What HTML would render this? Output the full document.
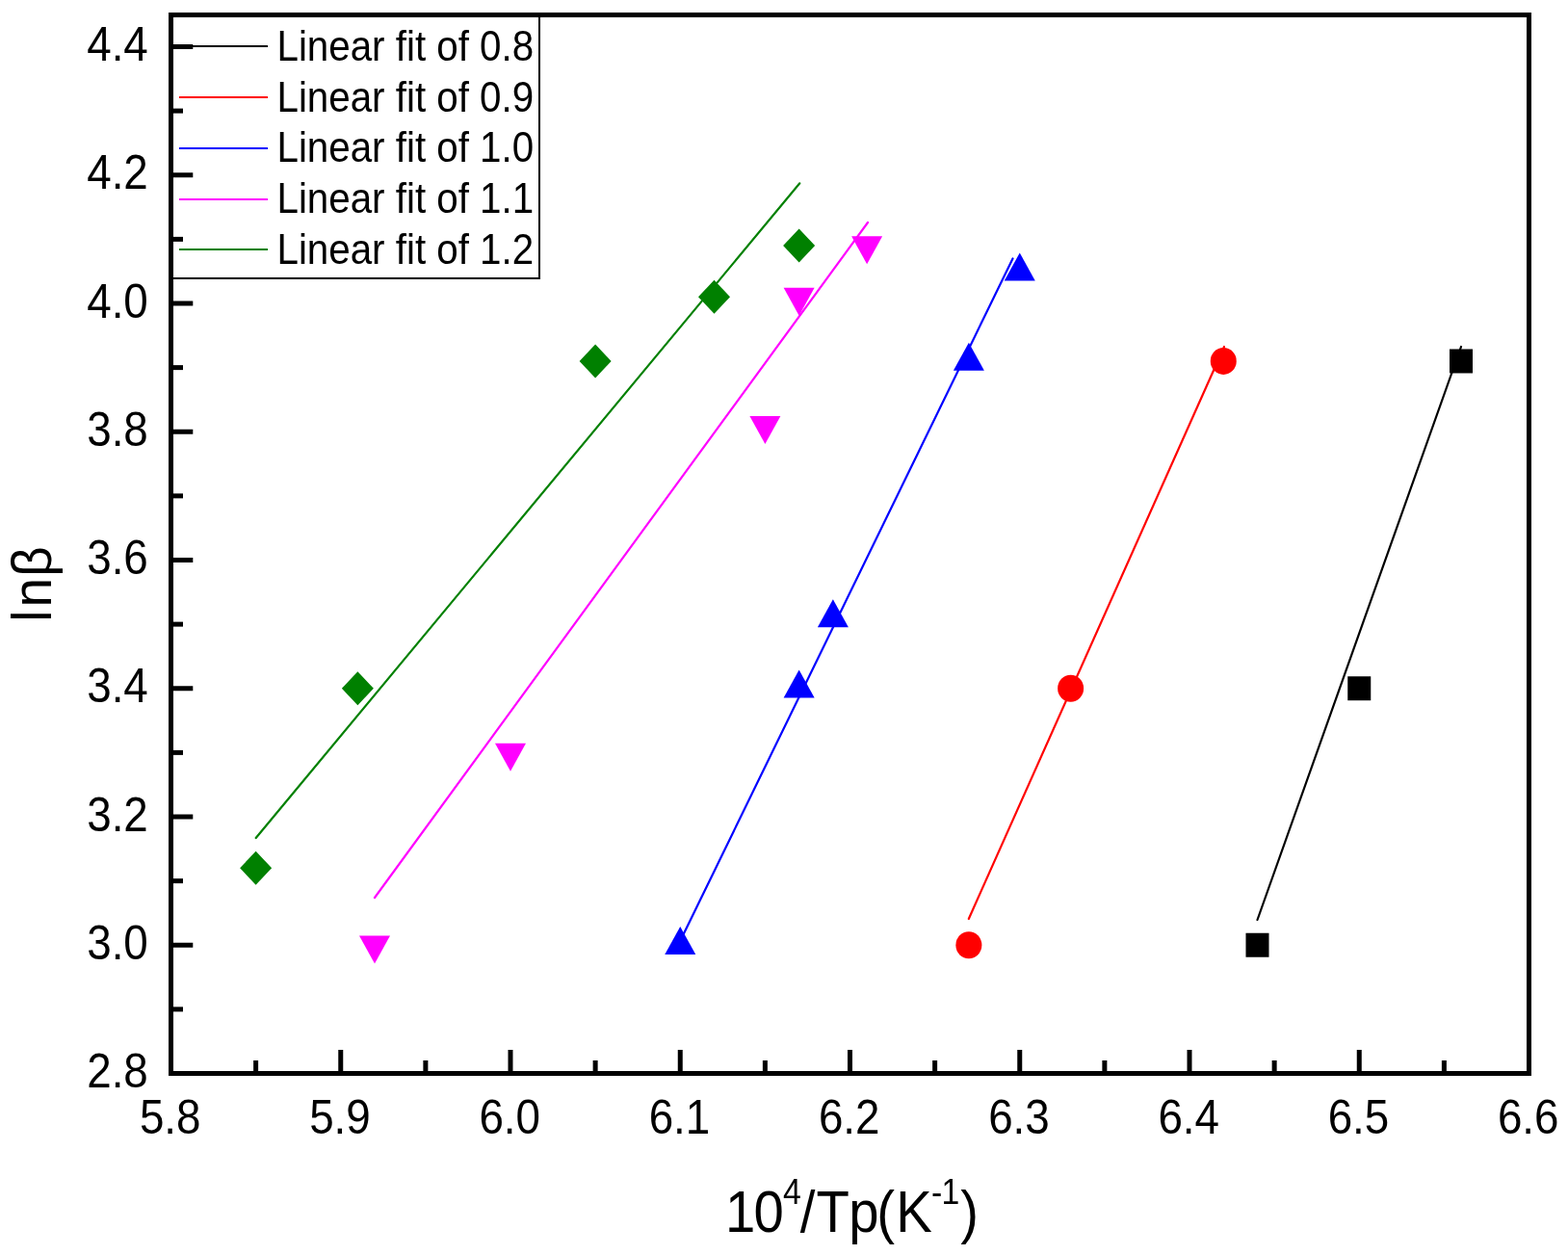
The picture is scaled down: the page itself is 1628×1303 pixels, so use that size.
<!DOCTYPE html><html><head><meta charset="utf-8"><title>lnβ vs 10^4/Tp</title><style>html,body{margin:0;padding:0;background:#fff;}svg{display:block;}text{font-family:"Liberation Sans", Arial, sans-serif;fill:#000;}</style></head><body>
<svg width="1628" height="1303" viewBox="0 0 1628 1303">
<rect x="0" y="0" width="1628" height="1303" fill="#fff"/>
<line x1="1305.5" y1="955.0" x2="1517.0" y2="360.0" stroke="#000000" stroke-width="2.2" stroke-linecap="round"/>
<line x1="1005.8" y1="954.0" x2="1271.0" y2="360.0" stroke="#ff0000" stroke-width="2.2" stroke-linecap="round"/>
<line x1="706.2" y1="977.0" x2="1051.5" y2="268.5" stroke="#0000ff" stroke-width="2.2" stroke-linecap="round"/>
<line x1="389.0" y1="932.0" x2="901.0" y2="231.0" stroke="#ff00ff" stroke-width="2.2" stroke-linecap="round"/>
<line x1="265.7" y1="870.0" x2="830.3" y2="190.3" stroke="#008000" stroke-width="2.2" stroke-linecap="round"/>
<rect x="1293.50" y="968.75" width="24" height="25" fill="#000"/>
<rect x="1399.25" y="702.25" width="24" height="25" fill="#000"/>
<rect x="1505.00" y="362.46" width="24" height="25" fill="#000"/>
<ellipse cx="1005.87" cy="981.25" rx="13.5" ry="14" fill="#ff0000"/>
<ellipse cx="1111.63" cy="714.75" rx="13.5" ry="14" fill="#ff0000"/>
<ellipse cx="1270.25" cy="374.96" rx="13.5" ry="14" fill="#ff0000"/>
<polygon points="706.25,961.95 690.25,990.95 722.25,990.95" fill="#0000ff"/>
<polygon points="829.63,695.45 813.63,724.45 845.63,724.45" fill="#0000ff"/>
<polygon points="864.88,622.16 848.88,651.16 880.88,651.16" fill="#0000ff"/>
<polygon points="1005.87,355.66 989.87,384.66 1021.87,384.66" fill="#0000ff"/>
<polygon points="1058.75,262.39 1042.75,291.39 1074.75,291.39" fill="#0000ff"/>
<polygon points="389.00,1000.55 373.00,971.55 405.00,971.55" fill="#ff00ff"/>
<polygon points="530.00,800.67 514.00,771.67 546.00,771.67" fill="#ff00ff"/>
<polygon points="794.38,460.89 778.38,431.89 810.38,431.89" fill="#ff00ff"/>
<polygon points="829.63,327.64 813.63,298.64 845.63,298.64" fill="#ff00ff"/>
<polygon points="900.13,274.34 884.13,245.34 916.13,245.34" fill="#ff00ff"/>
<polygon points="265.62,883.80 282.12,901.30 265.62,918.80 249.12,901.30" fill="#008000"/>
<polygon points="371.38,697.25 387.88,714.75 371.38,732.25 354.88,714.75" fill="#008000"/>
<polygon points="618.12,357.46 634.62,374.96 618.12,392.46 601.62,374.96" fill="#008000"/>
<polygon points="741.50,290.84 758.00,308.34 741.50,325.84 725.00,308.34" fill="#008000"/>
<polygon points="829.63,237.54 846.13,255.04 829.63,272.54 813.13,255.04" fill="#008000"/>
<rect x="176" y="14" width="384" height="275" fill="#fff" stroke="#000" stroke-width="2"/>
<line x1="186" y1="48.0" x2="278" y2="48.0" stroke="#000000" stroke-width="2"/>
<text transform="translate(287.50 62.80) scale(0.8980 1)" font-size="44.90">Linear fit of 0.8</text>
<line x1="186" y1="101.0" x2="278" y2="101.0" stroke="#ff0000" stroke-width="2"/>
<text transform="translate(287.50 115.60) scale(0.8980 1)" font-size="44.90">Linear fit of 0.9</text>
<line x1="186" y1="154.0" x2="278" y2="154.0" stroke="#0000ff" stroke-width="2"/>
<text transform="translate(287.50 168.40) scale(0.8980 1)" font-size="44.90">Linear fit of 1.0</text>
<line x1="186" y1="207.0" x2="278" y2="207.0" stroke="#ff00ff" stroke-width="2"/>
<text transform="translate(287.50 221.20) scale(0.8980 1)" font-size="44.90">Linear fit of 1.1</text>
<line x1="186" y1="259.0" x2="278" y2="259.0" stroke="#008000" stroke-width="2"/>
<text transform="translate(287.50 274.00) scale(0.8980 1)" font-size="44.90">Linear fit of 1.2</text>
<rect x="177.5" y="15.5" width="1410.0" height="1099.0" fill="none" stroke="#000" stroke-width="5"/>
<line x1="178" y1="1114.50" x2="200.3" y2="1114.50" stroke="#000" stroke-width="5"/>
<text transform="translate(153.80 1129.20) scale(0.9150 1)" font-size="50.00" text-anchor="end">2.8</text>
<line x1="178" y1="1047.88" x2="190" y2="1047.88" stroke="#000" stroke-width="5"/>
<line x1="178" y1="981.25" x2="200.3" y2="981.25" stroke="#000" stroke-width="5"/>
<text transform="translate(153.80 995.95) scale(0.9150 1)" font-size="50.00" text-anchor="end">3.0</text>
<line x1="178" y1="914.63" x2="190" y2="914.63" stroke="#000" stroke-width="5"/>
<line x1="178" y1="848.00" x2="200.3" y2="848.00" stroke="#000" stroke-width="5"/>
<text transform="translate(153.80 862.70) scale(0.9150 1)" font-size="50.00" text-anchor="end">3.2</text>
<line x1="178" y1="781.38" x2="190" y2="781.38" stroke="#000" stroke-width="5"/>
<line x1="178" y1="714.75" x2="200.3" y2="714.75" stroke="#000" stroke-width="5"/>
<text transform="translate(153.80 729.45) scale(0.9150 1)" font-size="50.00" text-anchor="end">3.4</text>
<line x1="178" y1="648.12" x2="190" y2="648.12" stroke="#000" stroke-width="5"/>
<line x1="178" y1="581.50" x2="200.3" y2="581.50" stroke="#000" stroke-width="5"/>
<text transform="translate(153.80 596.20) scale(0.9150 1)" font-size="50.00" text-anchor="end">3.6</text>
<line x1="178" y1="514.88" x2="190" y2="514.88" stroke="#000" stroke-width="5"/>
<line x1="178" y1="448.25" x2="200.3" y2="448.25" stroke="#000" stroke-width="5"/>
<text transform="translate(153.80 462.95) scale(0.9150 1)" font-size="50.00" text-anchor="end">3.8</text>
<line x1="178" y1="381.62" x2="190" y2="381.62" stroke="#000" stroke-width="5"/>
<line x1="178" y1="315.00" x2="200.3" y2="315.00" stroke="#000" stroke-width="5"/>
<text transform="translate(153.80 329.70) scale(0.9150 1)" font-size="50.00" text-anchor="end">4.0</text>
<line x1="178" y1="248.38" x2="190" y2="248.38" stroke="#000" stroke-width="5"/>
<line x1="178" y1="181.75" x2="200.3" y2="181.75" stroke="#000" stroke-width="5"/>
<text transform="translate(153.80 196.45) scale(0.9150 1)" font-size="50.00" text-anchor="end">4.2</text>
<line x1="178" y1="115.12" x2="190" y2="115.12" stroke="#000" stroke-width="5"/>
<line x1="178" y1="48.50" x2="200.3" y2="48.50" stroke="#000" stroke-width="5"/>
<text transform="translate(153.80 63.20) scale(0.9150 1)" font-size="50.00" text-anchor="end">4.4</text>
<text transform="translate(176.70 1176.80) scale(0.9150 1)" font-size="50.00" text-anchor="middle">5.8</text>
<line x1="265.62" y1="1113" x2="265.62" y2="1101" stroke="#000" stroke-width="5"/>
<line x1="353.75" y1="1113" x2="353.75" y2="1090" stroke="#000" stroke-width="5"/>
<text transform="translate(352.95 1176.80) scale(0.9150 1)" font-size="50.00" text-anchor="middle">5.9</text>
<line x1="441.88" y1="1113" x2="441.88" y2="1101" stroke="#000" stroke-width="5"/>
<line x1="530.00" y1="1113" x2="530.00" y2="1090" stroke="#000" stroke-width="5"/>
<text transform="translate(529.20 1176.80) scale(0.9150 1)" font-size="50.00" text-anchor="middle">6.0</text>
<line x1="618.12" y1="1113" x2="618.12" y2="1101" stroke="#000" stroke-width="5"/>
<line x1="706.25" y1="1113" x2="706.25" y2="1090" stroke="#000" stroke-width="5"/>
<text transform="translate(705.45 1176.80) scale(0.9150 1)" font-size="50.00" text-anchor="middle">6.1</text>
<line x1="794.37" y1="1113" x2="794.37" y2="1101" stroke="#000" stroke-width="5"/>
<line x1="882.50" y1="1113" x2="882.50" y2="1090" stroke="#000" stroke-width="5"/>
<text transform="translate(881.70 1176.80) scale(0.9150 1)" font-size="50.00" text-anchor="middle">6.2</text>
<line x1="970.63" y1="1113" x2="970.63" y2="1101" stroke="#000" stroke-width="5"/>
<line x1="1058.75" y1="1113" x2="1058.75" y2="1090" stroke="#000" stroke-width="5"/>
<text transform="translate(1057.95 1176.80) scale(0.9150 1)" font-size="50.00" text-anchor="middle">6.3</text>
<line x1="1146.87" y1="1113" x2="1146.87" y2="1101" stroke="#000" stroke-width="5"/>
<line x1="1235.00" y1="1113" x2="1235.00" y2="1090" stroke="#000" stroke-width="5"/>
<text transform="translate(1234.20 1176.80) scale(0.9150 1)" font-size="50.00" text-anchor="middle">6.4</text>
<line x1="1323.13" y1="1113" x2="1323.13" y2="1101" stroke="#000" stroke-width="5"/>
<line x1="1411.25" y1="1113" x2="1411.25" y2="1090" stroke="#000" stroke-width="5"/>
<text transform="translate(1410.45 1176.80) scale(0.9150 1)" font-size="50.00" text-anchor="middle">6.5</text>
<line x1="1499.38" y1="1113" x2="1499.38" y2="1101" stroke="#000" stroke-width="5"/>
<text transform="translate(1586.70 1176.80) scale(0.9150 1)" font-size="50.00" text-anchor="middle">6.6</text>
<text transform="translate(0 1279.10) scale(0.9340 1)" font-size="60.30"><tspan x="806.27 837.90" y="0">10</tspan><tspan x="870.48" y="-29.30" font-size="36.20">4</tspan><tspan x="889.51 907.53 943.44 974.53 996.12" y="0">/Tp(K</tspan><tspan x="1035.22 1046.58" y="-29.30" font-size="36.20">-1</tspan><tspan x="1067.71" y="0">)</tspan></text>
<text transform="translate(53 645.69) rotate(-90) scale(0.940 1)" font-size="58.30" x="0 16.12 49.99">lnβ</text>
</svg></body></html>
